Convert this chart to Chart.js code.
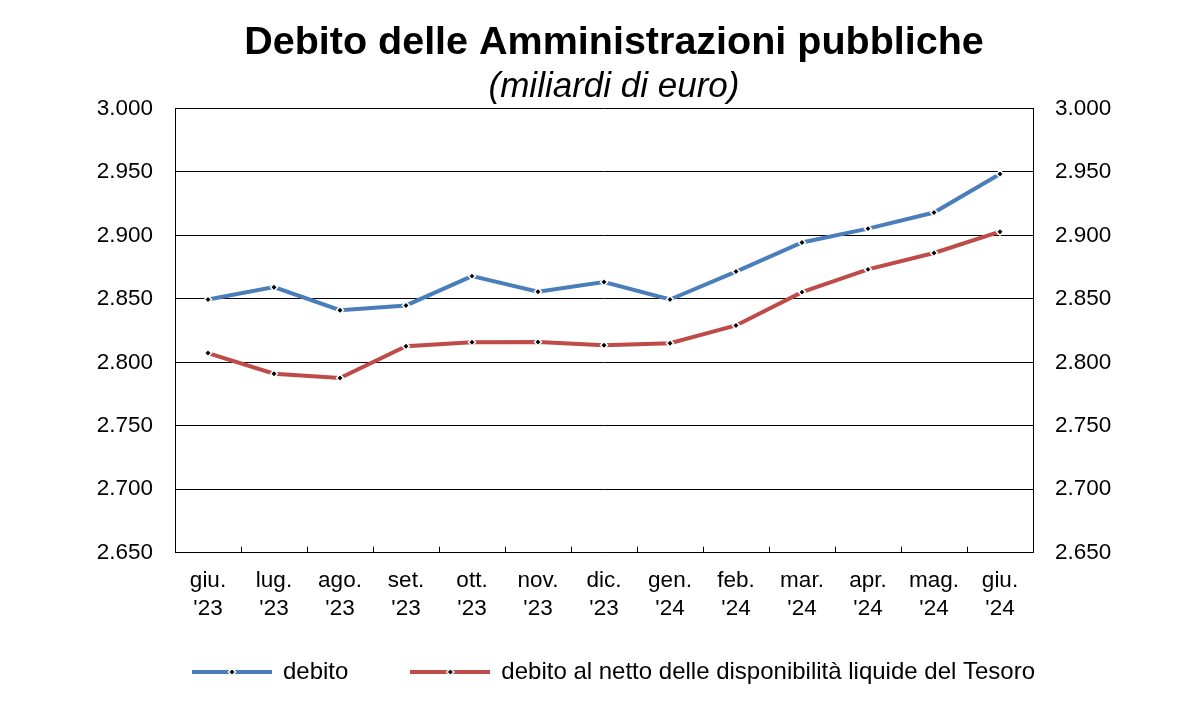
<!DOCTYPE html>
<html>
<head>
<meta charset="utf-8">
<script src="https://cdn.jsdelivr.net/npm/chart.js@4/dist/chart.umd.min.js"></script>
<style>
  html, body { margin: 0; padding: 0; background: #fff; }
  #wrap { width: 1200px; height: 725px; }
</style>
</head>
<body>
<div id="wrap"><canvas id="chart" width="1200" height="725"></canvas></div>
<script>
// mesi (etichette asse x, due righe)
const months = [
  ['giu.', "'23"], ['lug.', "'23"], ['ago.', "'23"], ['set.', "'23"],
  ['ott.', "'23"], ['nov.', "'23"], ['dic.', "'23"], ['gen.', "'24"],
  ['feb.', "'24"], ['mar.', "'24"], ['apr.', "'24"], ['mag.', "'24"],
  ['giu.', "'24"]
];

// valori in miliardi di euro
const debito = [2849.5, 2859.2, 2841.0, 2844.8, 2867.9, 2855.6, 2863.2,
  2849.5, 2871.5, 2894.4, 2905.3, 2918.0, 2948.4];
const debitoNetto = [2807.3, 2791.0, 2787.6, 2812.6, 2815.8, 2816.0, 2813.4,
  2815.0, 2829.0, 2855.3, 2873.2, 2886.1, 2902.9];

const seriesLabels = ['debito', 'debito al netto delle disponibilità liquide del Tesoro'];
const yMin = 2650, yMax = 3000, yStep = 50;

const blue = '#4a7ebb';
const red = '#be4b48';
const FONT = '"Liberation Sans", Arial, sans-serif';

function fmt(v) {
  const s = String(Math.round(v));
  return s.length > 3 ? s.slice(0, s.length - 3) + '.' + s.slice(-3) : s;
}

// icona legenda: linea con rombo nero al centro
function legendIcon(color) {
  const c = document.createElement('canvas');
  c.width = 80; c.height = 10;
  const g = c.getContext('2d');
  g.strokeStyle = color;
  g.lineWidth = 4;
  g.beginPath(); g.moveTo(0, 5); g.lineTo(80, 5); g.stroke();
  g.fillStyle = '#000';
  g.strokeStyle = '#fff';
  g.lineWidth = 1.5;
  g.beginPath();
  g.moveTo(40, 1.5); g.lineTo(43.5, 5); g.lineTo(40, 8.5); g.lineTo(36.5, 5); g.closePath();
  g.fill(); g.stroke();
  return c;
}
const icons = [legendIcon(blue), legendIcon(red)];

// tacche verso l'interno tra le categorie
const innerTicks = {
  id: 'innerTicks',
  afterDatasetsDraw(chart) {
    const x = chart.scales.x;
    const bottom = chart.chartArea.bottom;
    const ctx = chart.ctx;
    ctx.save();
    ctx.strokeStyle = '#000';
    ctx.lineWidth = 1;
    for (let i = 1; i < months.length; i++) {
      const px = Math.round((x.getPixelForTick(i - 1) + x.getPixelForTick(i)) / 2) + 0.5;
      ctx.beginPath();
      ctx.moveTo(px, bottom);
      ctx.lineTo(px, bottom - 6);
      ctx.stroke();
    }
    ctx.restore();
  }
};

function lineDataset(label, data, color) {
  return {
    label: label,
    data: data,
    borderColor: color,
    backgroundColor: color,
    borderWidth: 4,
    tension: 0,
    pointStyle: 'rectRot',
    pointRadius: 3.5,
    pointBackgroundColor: '#000',
    pointBorderColor: '#fff',
    pointBorderWidth: 1.5,
    yAxisID: 'y'
  };
}

new Chart(document.getElementById('chart'), {
  type: 'line',
  data: {
    labels: months,
    datasets: [
      lineDataset(seriesLabels[0], debito, blue),
      lineDataset(seriesLabels[1], debitoNetto, red)
    ]
  },
  options: {
    responsive: false,
    animation: false,
    layout: { padding: { left: 28, right: 0, top: 0, bottom: 31 } },
    plugins: {
      title: {
        display: true,
        text: 'Debito delle Amministrazioni pubbliche',
        color: '#000',
        font: { family: FONT, size: 39.5, weight: 'bold' },
        padding: { top: 19, bottom: 0 }
      },
      subtitle: {
        display: true,
        text: '(miliardi di euro)',
        color: '#000',
        font: { family: FONT, size: 35, style: 'italic' },
        padding: { top: 0, bottom: 0 }
      },
      legend: {
        position: 'bottom',
        labels: {
          color: '#000',
          font: { family: FONT, size: 24 },
          usePointStyle: true,
          pointStyleWidth: 78,
          padding: 23,
          generateLabels(chart) {
            return chart.data.datasets.map((ds, i) => ({
              // spazio extra dopo la prima voce
              text: ds.label + (i === 0 ? '\u00a0'.repeat(6) : ''),
              pointStyle: icons[i],
              fillStyle: ds.borderColor,
              strokeStyle: ds.borderColor,
              lineWidth: 0,
              datasetIndex: i,
              hidden: false
            }));
          }
        }
      },
      tooltip: { enabled: false }
    },
    scales: {
      x: {
        offset: true,
        grid: { display: false, drawTicks: false },
        border: { color: '#000', width: 1 },
        ticks: {
          color: '#000',
          font: { family: FONT, size: 22.5, lineHeight: 1.25 },
          padding: 14,
          maxRotation: 0,
          autoSkip: false
        }
      },
      y: {
        position: 'left',
        min: yMin, max: yMax,
        grid: { color: '#000', lineWidth: 1, drawTicks: false },
        border: { color: '#000', width: 1 },
        afterFit(s) { s.width = 147; },
        ticks: {
          stepSize: yStep,
          color: '#000',
          font: { family: FONT, size: 22.5 },
          padding: 22,
          callback: v => fmt(v)
        }
      },
      y2: {
        position: 'right',
        min: yMin, max: yMax,
        grid: { display: false, drawTicks: false },
        border: { color: '#000', width: 1 },
        afterFit(s) { s.width = 167; },
        ticks: {
          stepSize: yStep,
          color: '#000',
          font: { family: FONT, size: 22.5 },
          padding: 22,
          callback: v => fmt(v)
        }
      }
    }
  },
  plugins: [innerTicks]
});
</script>
</body>
</html>
